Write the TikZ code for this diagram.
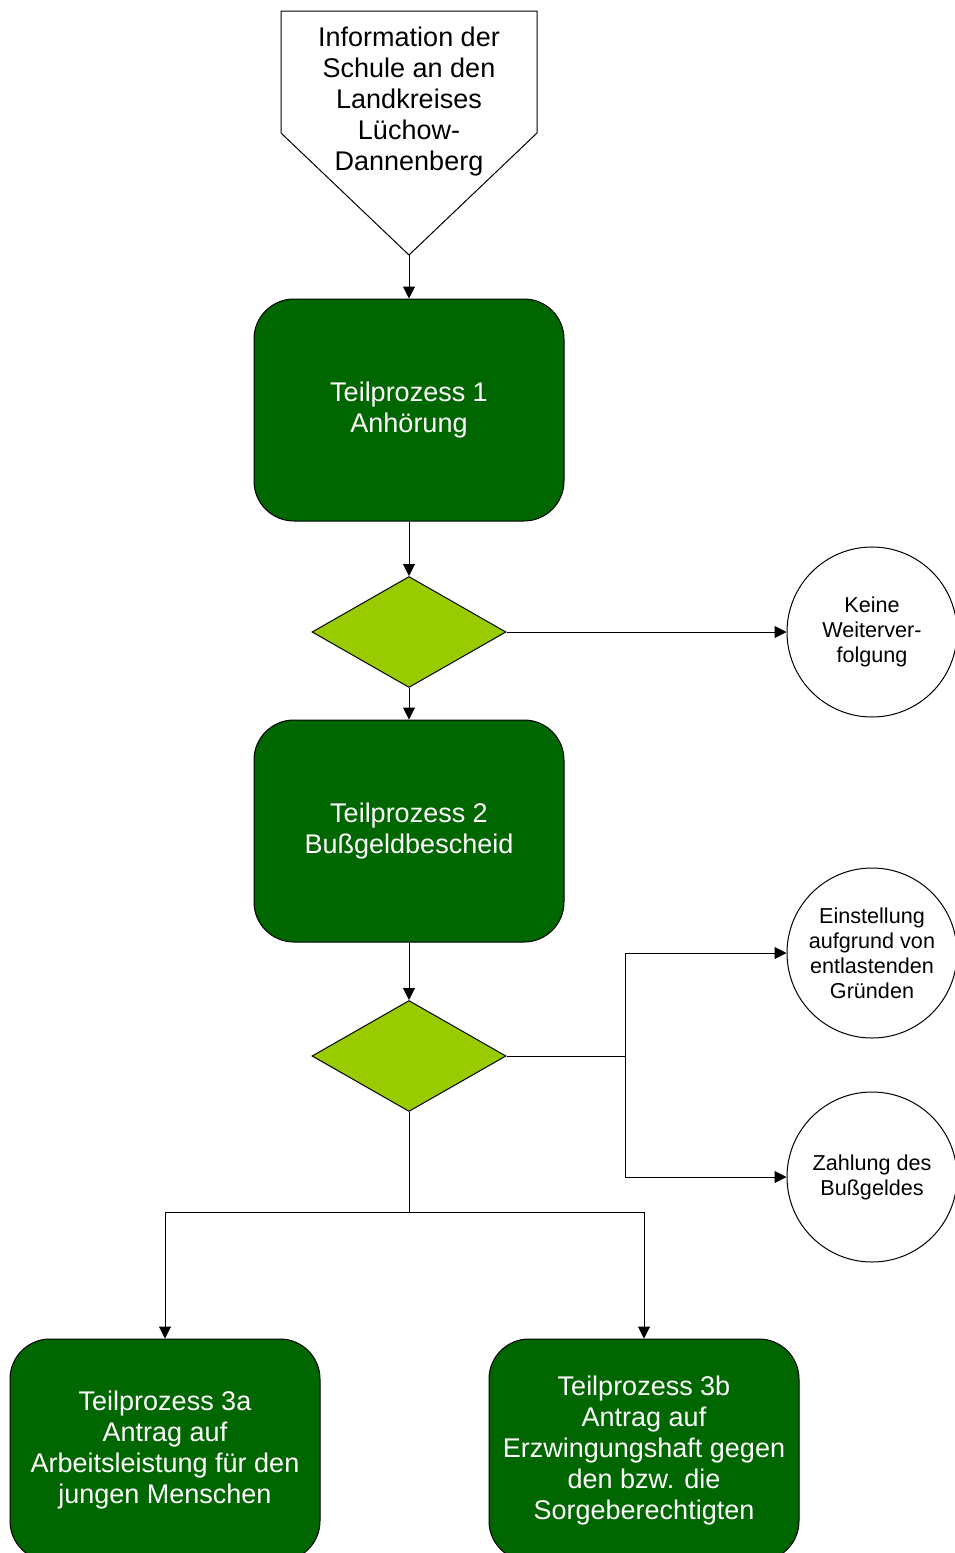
\documentclass[tikz,border=0pt]{standalone}
\usepackage{fontspec}
\setmainfont{Liberation Sans}
\usepackage{xcolor}
\usetikzlibrary{arrows.meta, positioning, shapes.geometric}
\definecolor{procgreen}{HTML}{006600}
\definecolor{decgreen}{HTML}{99CC00}

\begin{document}
\begin{tikzpicture}[x=0.5pt, y=-0.5pt, >={Triangle[length=6pt, width=6pt]}, line width=0.5pt,
  txt/.style={font=\fontsize{13.5}{15.5}\selectfont, align=center, inner sep=0pt,
    execute at begin node={\rule{0pt}{12pt}}},
  proc/.style={txt, draw, fill=procgreen, text=white, rounded corners=20pt, minimum width=155pt, minimum height=111pt},
  dec/.style={diamond, draw, fill=decgreen, minimum width=97pt, minimum height=55.5pt, inner sep=0pt},
  endpt/.style={circle, draw, minimum size=85pt, inner sep=0pt, align=center, font=\fontsize{10.8}{12.5}\selectfont,
    execute at begin node={\rule{0pt}{10pt}}}]
  \useasboundingbox (0,0) rectangle (954,1553);
  % start: pentagon pointing down
  \draw (281,11) -- (537,11) -- (537,133) -- (409,255) -- (281,133) -- cycle;
  \coordinate (infotip) at (409,255);
  \node[txt] (info) at (409,102) {Information der\\Schule an den\\Landkreises\\Lüchow-\\Dannenberg};
  \node[proc] (tp1) at (409,410) {Teilprozess 1\\Anhörung};
  \node[dec] (d1) at (409,632) {};
  \node[endpt] (c1) at (872,632) {Keine\\Weiterver-\\folgung};
  \node[proc] (tp2) at (409,831) {Teilprozess 2\\Bußgeldbescheid};
  \node[dec] (d2) at (409,1056) {};
  \node[endpt] (c2) at (872,953) {Einstellung\\aufgrund von\\entlastenden\\Gründen};
  \node[endpt] (c3) at (872,1177) {Zahlung des\\Bußgeldes};
  \node[proc] (tp3a) at (165,1450) {Teilprozess 3a\\Antrag auf\\Arbeitsleistung für den\\jungen Menschen};
  \node[proc] (tp3b) at (644,1450) {Teilprozess 3b\\Antrag auf\\Erzwingungshaft gegen\\den bzw. die\\Sorgeberechtigten};
  \coordinate (rsplit) at (625,1056);
  \coordinate (bsplit) at (409,1212);
  % connectors
  \draw[->] (infotip) -- (tp1.north);
  \draw[->] (tp1.south) -- (d1.north);
  \draw[->] (d1.east) -- (c1.west);
  \draw[->] (d1.south) -- (tp2.north);
  \draw[->] (tp2.south) -- (d2.north);
  \draw[->] (d2.east) -- (rsplit) |- (c2.west);
  \draw[->] (rsplit) |- (c3.west);
  \draw[->] (d2.south) -- (bsplit) -| (tp3a.north);
  \draw[->] (bsplit) -| (tp3b.north);
\end{tikzpicture}
\end{document}
